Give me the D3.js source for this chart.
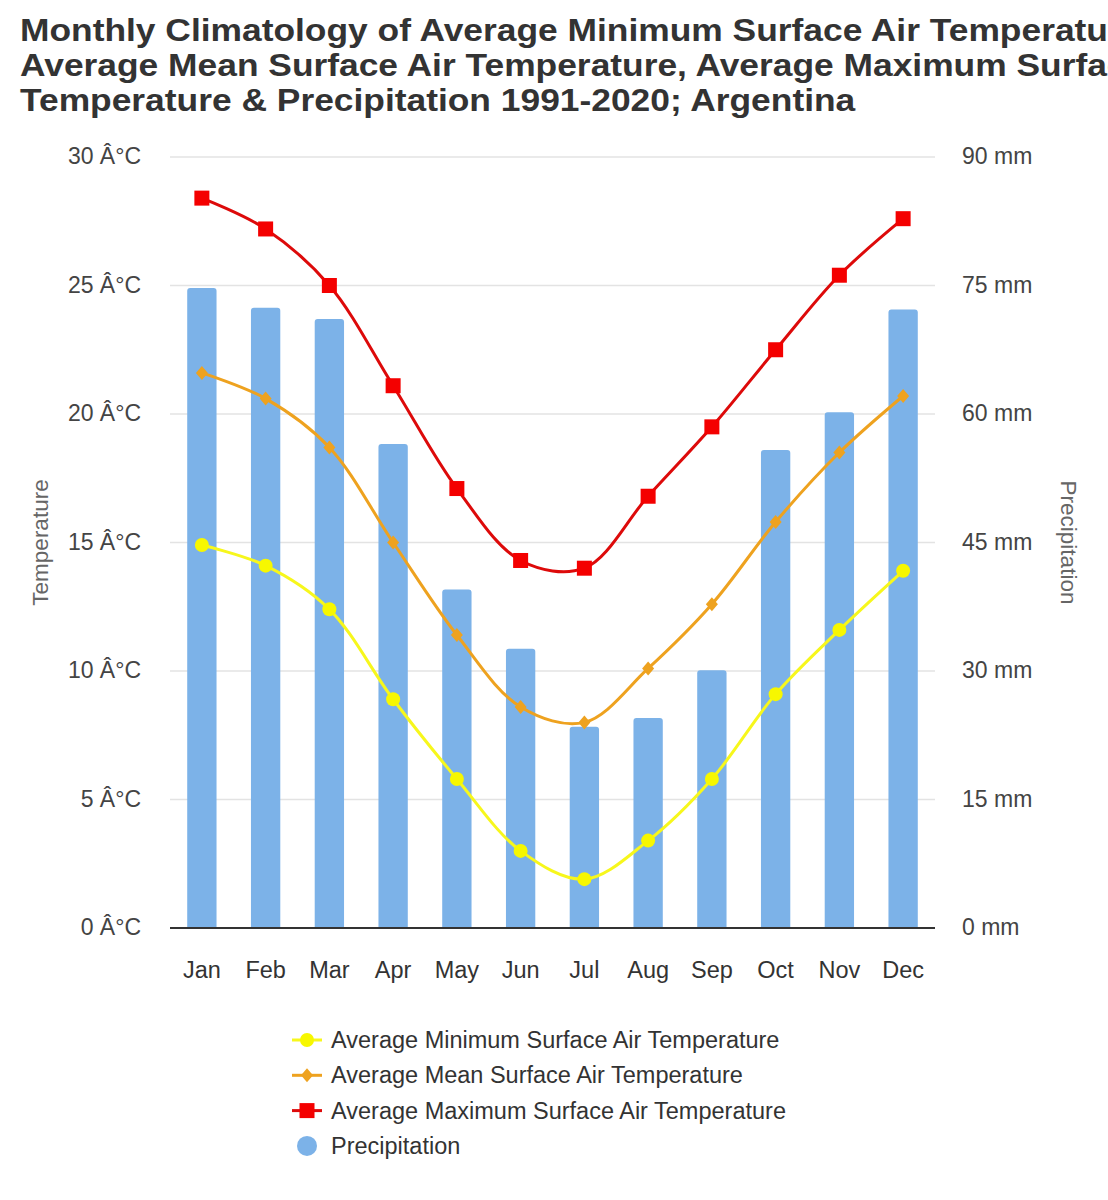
<!DOCTYPE html>
<html>
<head>
<meta charset="utf-8">
<script src="https://cdn.jsdelivr.net/npm/d3@7"></script>
<style>
body{margin:0;background:#fff;}
svg{display:block;font-family:"Liberation Sans",Arial,sans-serif;}
</style>
</head>
<body>
<div id="chart"></div>
<script>
const months=['Jan','Feb','Mar','Apr','May','Jun','Jul','Aug','Sep','Oct','Nov','Dec'];
const tMin=[14.9,14.1,12.4,8.9,5.8,3.0,1.9,3.4,5.8,9.1,11.6,13.9];
const tMean=[21.6,20.6,18.7,15.0,11.4,8.6,8.0,10.1,12.6,15.8,18.5,20.7];
const tMax=[28.4,27.2,25.0,21.1,17.1,14.3,14.0,16.8,19.5,22.5,25.4,27.6];
const precip=[74.7,72.4,71.1,56.5,39.5,32.6,23.5,24.5,30.1,55.8,60.2,72.2];
const tempTicks=[0,5,10,15,20,25,30];
const precTicks=[0,15,30,45,60,75,90];
const titleLines=[
  'Monthly Climatology of Average Minimum Surface Air Temperature,',
  'Average Mean Surface Air Temperature, Average Maximum Surface Air',
  'Temperature & Precipitation 1991-2020; Argentina'
];
const legendNames=['Average Minimum Surface Air Temperature','Average Mean Surface Air Temperature','Average Maximum Surface Air Temperature','Precipitation'];

const width=1108, height=1200;
const margin={top:157,bottom:272,left:170,right:173};

const svg=d3.select('#chart').append('svg')
  .attr('width',width).attr('height',height)
  .attr('viewBox',[0,0,width,height]);

// title (the original is drawn a bit wide and runs off the right edge)
svg.append('g')
  .attr('transform','translate(20,0) scale(1.16,1)')
  .selectAll('text')
  .data(titleLines)
  .join('text')
    .attr('x',0).attr('y',(d,i)=>41+i*35)
    .attr('font-size',30.5).attr('font-weight','bold').attr('fill','#333')
    .text(d=>d);

const x=d3.scaleBand()
  .domain(months)
  .range([margin.left,width-margin.right])
  .paddingInner(0.54).paddingOuter(0.27);

const yT=d3.scaleLinear().domain([0,30]).range([height-margin.bottom,margin.top]);
const yP=d3.scaleLinear().domain([0,90]).range([height-margin.bottom,margin.top]);

// gridlines
svg.append('g')
  .selectAll('line')
  .data(tempTicks.slice(1))
  .join('line')
    .attr('x1',margin.left).attr('x2',width-margin.right)
    .attr('y1',d=>yT(d)).attr('y2',d=>yT(d))
    .attr('stroke','#e3e3e3').attr('stroke-width',1.5);

// left axis labels
svg.append('g')
  .selectAll('text')
  .data(tempTicks)
  .join('text')
    .attr('x',141).attr('y',d=>yT(d)+7)
    .attr('text-anchor','end').attr('font-size',23).attr('fill','#444')
    .text(d=>d+' Â°C');

// right axis labels
svg.append('g')
  .selectAll('text')
  .data(precTicks)
  .join('text')
    .attr('x',962).attr('y',d=>yP(d)+7)
    .attr('font-size',23).attr('fill','#444')
    .text(d=>d+' mm');

svg.append('text')
  .attr('transform',`translate(48,${yT(15)}) rotate(-90)`)
  .attr('text-anchor','middle').attr('font-size',22.5).attr('fill','#666')
  .text('Temperature');
svg.append('text')
  .attr('transform',`translate(1061,${yT(15)}) rotate(90)`)
  .attr('text-anchor','middle').attr('font-size',22.5).attr('fill','#666')
  .text('Precipitation');

// bars with rounded tops
const r=3;
svg.append('g')
  .attr('fill','#7cb2e8')
  .selectAll('path')
  .data(precip)
  .join('path')
    .attr('d',(d,i)=>{
      const x0=x(months[i]), w=x.bandwidth(), y0=yP(d), yb=yP(0);
      return `M${x0},${yb}V${y0+r}Q${x0},${y0} ${x0+r},${y0}H${x0+w-r}Q${x0+w},${y0} ${x0+w},${y0+r}V${yb}Z`;
    });

// baseline
svg.append('line')
  .attr('x1',margin.left).attr('x2',width-margin.right)
  .attr('y1',yT(0)).attr('y2',yT(0))
  .attr('stroke','#333').attr('stroke-width',2);

// x labels
svg.append('g')
  .selectAll('text')
  .data(months)
  .join('text')
    .attr('x',d=>x(d)+x.bandwidth()/2).attr('y',978)
    .attr('text-anchor','middle').attr('font-size',23.5).attr('fill','#333')
    .text(d=>d);

const cx=i=>x(months[i])+x.bandwidth()/2;
const line=d3.line().x((d,i)=>cx(i)).y(d=>yT(d)).curve(d3.curveCatmullRom.alpha(0.5));

const series=[
  {vals:tMin,color:'#f7f71c',fill:'#f7f700',marker:'circle'},
  {vals:tMean,color:'#eea21f',marker:'diamond'},
  {vals:tMax,color:'#dd0a0a',fill:'#f40000',marker:'square'}
];

function drawMarker(g,type,color,x0,y0){
  if(type==='circle'){
    g.append('circle').attr('cx',x0).attr('cy',y0).attr('r',7).attr('fill',color);
  }else if(type==='diamond'){
    g.append('path').attr('d',`M${x0},${y0-7}L${x0+6},${y0}L${x0},${y0+7}L${x0-6},${y0}Z`).attr('fill',color);
  }else{
    g.append('rect').attr('x',x0-7.5).attr('y',y0-7.5).attr('width',15).attr('height',15).attr('fill',color);
  }
}

series.forEach(s=>{
  svg.append('path')
    .attr('d',line(s.vals))
    .attr('fill','none').attr('stroke',s.color).attr('stroke-width',3);
  const g=svg.append('g');
  s.vals.forEach((v,i)=>drawMarker(g,s.marker,s.fill||s.color,cx(i),yT(v)));
});

// legend
const legend=svg.append('g');
legendNames.forEach((name,i)=>{
  const ly=1040+i*35.3;
  if(i<3){
    const s=series[i];
    legend.append('line').attr('x1',292).attr('x2',322).attr('y1',ly).attr('y2',ly)
      .attr('stroke',s.color).attr('stroke-width',3);
    drawMarker(legend,s.marker,s.fill||s.color,307,ly);
  }else{
    legend.append('circle').attr('cx',307).attr('cy',ly).attr('r',10).attr('fill','#7cb2e8');
  }
  legend.append('text').attr('x',331).attr('y',ly+8)
    .attr('font-size',23.5).attr('fill','#333').text(name);
});
</script>
</body>
</html>
